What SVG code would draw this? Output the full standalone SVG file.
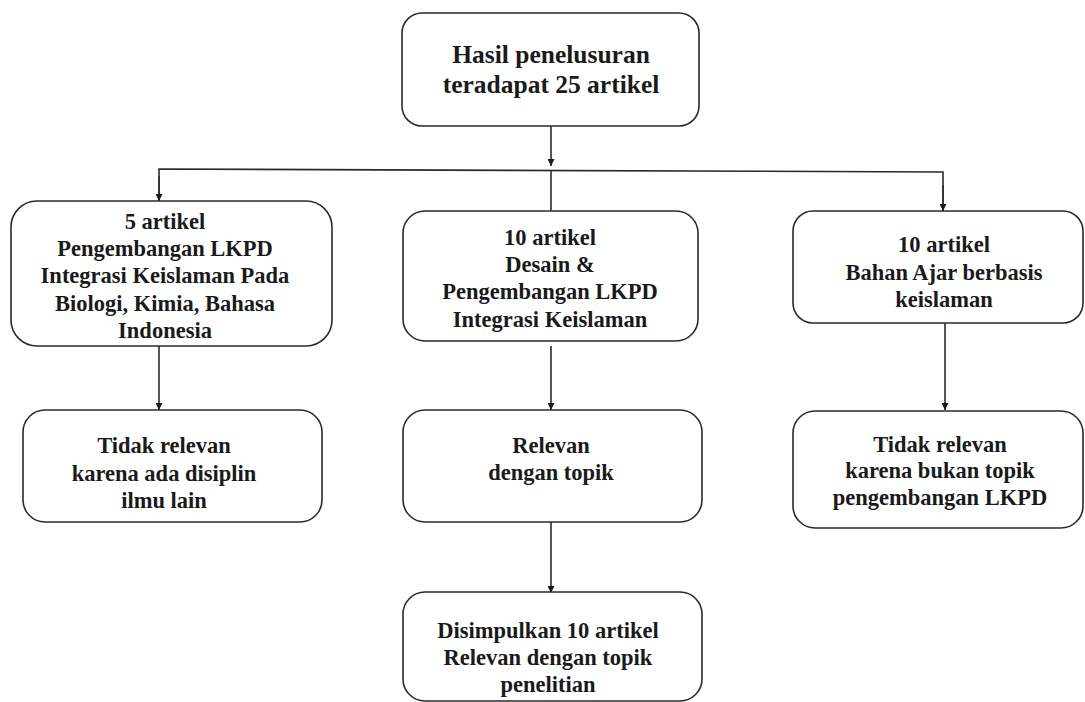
<svg xmlns="http://www.w3.org/2000/svg" width="1085" height="702" viewBox="0 0 1085 702">
<style>
.box{fill:#fff;stroke:#2b2b2b;stroke-width:1.6}
.t{font-family:'Liberation Serif','DejaVu Serif',serif;font-weight:bold;font-size:22.5px;fill:#1a1a1a;text-anchor:middle}
.big{font-size:25.5px}
.c{fill:none;stroke:#2b2b2b;stroke-width:1.6}
</style>
<defs>
<marker id="ah" viewBox="0 0 10 10" refX="10" refY="5" markerWidth="7" markerHeight="7" markerUnits="userSpaceOnUse" orient="auto">
<path d="M0,0 L10,5 L0,10 z" fill="#1a1a1a"/>
</marker>
</defs>
<g id="connectors">
<line class="c" x1="551" y1="126" x2="551" y2="166" marker-end="url(#ah)"/>
<polyline class="c" points="159,201 159,169 943,172 943,211"/>
<line class="c" x1="159" y1="176" x2="159" y2="201" marker-end="url(#ah)"/>
<line class="c" x1="943" y1="185" x2="943" y2="211" marker-end="url(#ah)"/>
<line class="c" x1="551" y1="170" x2="551" y2="211"/>
<line class="c" x1="159" y1="346" x2="159" y2="410" marker-end="url(#ah)"/>
<line class="c" x1="551" y1="346" x2="551" y2="410" marker-end="url(#ah)"/>
<line class="c" x1="945" y1="323" x2="945" y2="410" marker-end="url(#ah)"/>
<line class="c" x1="551" y1="522" x2="551" y2="593" marker-end="url(#ah)"/>
</g>
<g id="n-top">
<rect class="box" x="402" y="13" width="297" height="113" rx="20"/>
<text class="t big" x="551" y="63" font-family="Liberation Serif, DejaVu Serif, serif">Hasil penelusuran</text>
<text class="t big" x="551" y="93" font-family="Liberation Serif, DejaVu Serif, serif">teradapat 25 artikel</text>
</g>
<g id="n-left">
<rect class="box" x="11" y="201" width="321" height="145" rx="26"/>
<text class="t" x="165" y="229">5 artikel</text>
<text class="t" x="165" y="256">Pengembangan LKPD</text>
<text class="t" x="165" y="283">Integrasi Keislaman Pada</text>
<text class="t" x="165" y="311">Biologi, Kimia, Bahasa</text>
<text class="t" x="165" y="338">Indonesia</text>
</g>
<g id="n-mid">
<rect class="box" x="403" y="211" width="295" height="130" rx="22"/>
<text class="t" x="550" y="245">10 artikel</text>
<text class="t" x="550" y="272">Desain &amp;</text>
<text class="t" x="550" y="299">Pengembangan LKPD</text>
<text class="t" x="550" y="327">Integrasi Keislaman</text>
</g>
<g id="n-right">
<rect class="box" x="793" y="211" width="290" height="112" rx="20"/>
<text class="t" x="944" y="252">10 artikel</text>
<text class="t" x="944" y="280">Bahan Ajar berbasis</text>
<text class="t" x="944" y="307">keislaman</text>
</g>
<g id="n-left2">
<rect class="box" x="23" y="410" width="299" height="112" rx="22"/>
<text class="t" x="164" y="453">Tidak relevan</text>
<text class="t" x="164" y="481">karena ada disiplin</text>
<text class="t" x="164" y="508">ilmu lain</text>
</g>
<g id="n-mid2">
<rect class="box" x="403" y="410" width="299" height="112" rx="22"/>
<text class="t" x="551" y="453">Relevan</text>
<text class="t" x="551" y="480">dengan topik</text>
</g>
<g id="n-right2">
<rect class="box" x="793" y="411" width="290" height="117" rx="22"/>
<text class="t" x="940" y="452">Tidak relevan</text>
<text class="t" x="940" y="478">karena bukan topik</text>
<text class="t" x="940" y="505">pengembangan LKPD</text>
</g>
<g id="n-bottom">
<rect class="box" x="403" y="592" width="299" height="109" rx="22"/>
<text class="t" x="548" y="638">Disimpulkan 10 artikel</text>
<text class="t" x="548" y="665">Relevan dengan topik</text>
<text class="t" x="548" y="692">penelitian</text>
</g>
</svg>
